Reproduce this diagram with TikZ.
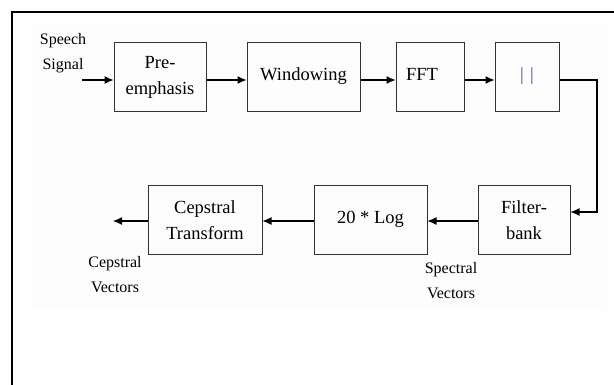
\documentclass[tikz,border=0pt]{standalone}
\usepackage{fontspec}
\setmainfont{Liberation Serif}
\usetikzlibrary{arrows.meta}
\begin{document}
\begin{tikzpicture}[x=1pt,y=-1pt,
  blk/.style={draw=black!80,line width=1pt,align=center,inner sep=0pt,font=\fontsize{18.5}{26}\selectfont},
  lbl/.style={align=center,inner sep=0pt,font=\fontsize{16}{25}\selectfont},
  conn/.style={line width=1.1pt,-{Latex[length=9pt,width=8pt]}}]
\useasboundingbox (0,0) rectangle (614,385);
\fill[black!0.6] (32,25) rectangle (607,310);
\draw[line width=2pt] (12,385) -- (12,12) -- (614,12);
\node[blk,minimum width=92pt,minimum height=69pt] (pre) at (160,77.5) {Pre-\\emphasis};
\node[blk,minimum width=113pt,minimum height=69pt] (win) at (303.5,77.5) {\raisebox{6pt}{Windowing}};
\node[blk,minimum width=68pt,minimum height=69pt] (fft) at (430,77.5) {\hspace*{-16pt}\raisebox{6pt}{FFT}};
\node[blk,minimum width=64pt,minimum height=69pt] (abs) at (527,77.5) {\color{blue!40!gray}\raisebox{6pt}{|\,\,|}};
\node[blk,minimum width=92pt,minimum height=69pt] (fb) at (524,220.5) {Filter-\\bank};
\node[blk,minimum width=113pt,minimum height=69pt] (log) at (370.5,220.5) {\raisebox{6pt}{20 * Log}};
\node[blk,minimum width=114pt,minimum height=69pt] (cep) at (205,220.5) {Cepstral\\Transform};
\node[lbl] (sp) at (63,53) {Speech\\Signal};
\node[lbl] (sv) at (451,281) {Spectral\\Vectors};
\node[lbl] (cv) at (115,275) {Cepstral\\Vectors};
\coordinate (in) at (82,80);
\coordinate (out) at (113,221);
\coordinate (c1) at (597,80);
\coordinate (c2) at (597,212);
\draw[conn] (in) -- (in -| pre.west);
\draw[conn] (pre.east |- in) -- (win.west |- in);
\draw[conn] (win.east |- in) -- (fft.west |- in);
\draw[conn] (fft.east |- in) -- (abs.west |- in);
\draw[conn] (abs.east |- c1) -- (c1) -- (c2) -- (fb.east |- c2);
\draw[conn] (fb.west |- out) -- (log.east |- out);
\draw[conn] (log.west |- out) -- (cep.east |- out);
\draw[conn] (cep.west |- out) -- (out);
\end{tikzpicture}
\end{document}
